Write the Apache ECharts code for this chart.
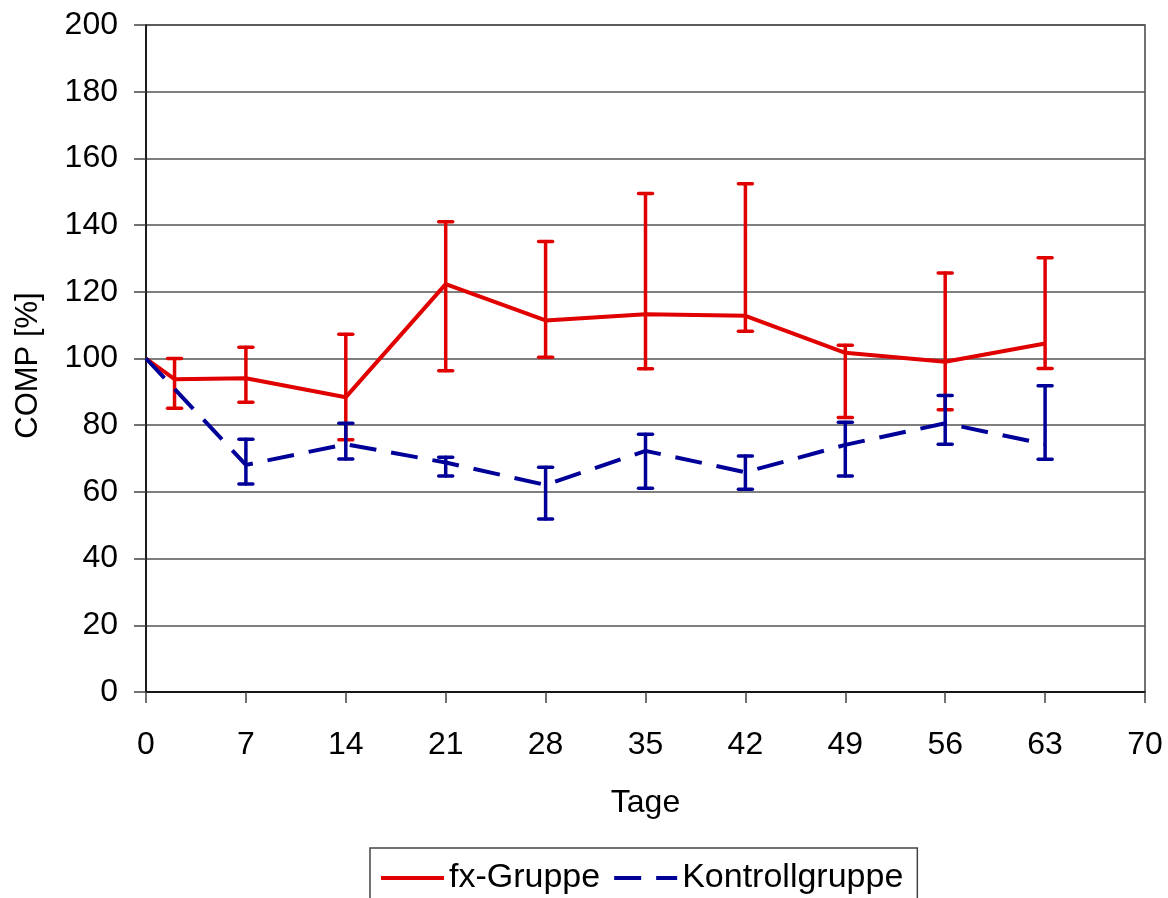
<!DOCTYPE html>
<html>
<head>
<meta charset="utf-8">
<script src="https://cdn.jsdelivr.net/npm/echarts@6/dist/echarts.min.js"></script>
<style>
html,body{margin:0;padding:0;background:#fff;}
#chart{width:1168px;height:898px;}
</style>
</head>
<body>
<div id="chart"></div>
<script>
// Data
var fxDays   = [0, 2, 7, 14, 21, 28, 35, 42, 49, 56, 63];
var fxMean   = [100, 93.8, 94.1, 88.4, 122.3, 111.4, 113.3, 112.8, 101.7, 99.0, 104.5];
var fxUpper  = [null, 100.0, 103.4, 107.3, 141.0, 135.1, 149.5, 152.4, 104.0, 125.6, 130.2];
var fxLower  = [null, 85.1, 86.9, 75.6, 96.3, 100.4, 96.9, 108.2, 82.3, 84.6, 97.0];

var kDays    = [0, 7, 14, 21, 28, 35, 42, 49, 56, 63];
var kMean    = [100, 68.1, 74.3, 68.8, 62.1, 72.3, 65.9, 74.1, 80.6, 74.3];
var kUpper   = [null, 75.8, 80.6, 70.4, 67.4, 77.3, 70.8, 80.9, 88.9, 91.8];
var kLower   = [null, 62.4, 69.9, 64.8, 51.9, 61.1, 60.8, 64.8, 74.3, 69.8];

var xTicks = [0, 7, 14, 21, 28, 35, 42, 49, 56, 63, 70];
var yTicks = [0, 20, 40, 60, 80, 100, 120, 140, 160, 180, 200];

var RED = '#e00000';
var BLUE = '#000099';
var FONT = '"Liberation Sans", Arial, sans-serif';

function pairs(xs, ys) {
  return xs.map(function (x, i) { return [x, ys[i]]; });
}
function errData(xs, lo, hi) {
  var out = [];
  xs.forEach(function (x, i) {
    if (lo[i] != null && hi[i] != null) out.push([x, lo[i], hi[i]]);
  });
  return out;
}
function errRender(color) {
  return function (params, api) {
    var x = api.value(0);
    var pLo = api.coord([x, api.value(1)]);
    var pHi = api.coord([x, api.value(2)]);
    var hw = 7;
    var style = { stroke: color, lineWidth: 3.5, lineCap: 'round' };
    return {
      type: 'group',
      children: [
        { type: 'line', shape: { x1: pLo[0], y1: pLo[1], x2: pHi[0], y2: pHi[1] }, style: style },
        { type: 'line', shape: { x1: pLo[0] - hw, y1: pLo[1], x2: pLo[0] + hw, y2: pLo[1] }, style: style },
        { type: 'line', shape: { x1: pHi[0] - hw, y1: pHi[1], x2: pHi[0] + hw, y2: pHi[1] }, style: style }
      ]
    };
  };
}

var chart = echarts.init(document.getElementById('chart'), null, { renderer: 'canvas' });
chart.setOption({
  animation: false,
  backgroundColor: '#fff',
  textStyle: { fontFamily: FONT },
  grid: {
    left: 146, right: 23, top: 25, bottom: 206,
    show: true, borderColor: '#444', borderWidth: 1.5
  },
  legend: {
    data: ['fx-Gruppe', 'Kontrollgruppe'],
    left: 370, top: 848,
    orient: 'horizontal',
    itemWidth: 63, itemHeight: 14, itemGap: 12,
    padding: [13, 14, 30, 9],
    borderColor: '#444', borderWidth: 1.5,
    selectedMode: false,
    itemStyle: { color: 'rgba(0,0,0,0)', borderWidth: 0, opacity: 0 },
    lineStyle: { width: 4 },
    textStyle: { fontSize: 34, color: '#000', fontFamily: FONT }
  },
  xAxis: {
    type: 'value',
    min: xTicks[0], max: xTicks[xTicks.length - 1], interval: 7,
    name: 'Tage', nameLocation: 'middle', nameGap: 95,
    nameTextStyle: { fontSize: 32, color: '#000', fontFamily: FONT },
    axisLine: { show: true, lineStyle: { color: '#000', width: 1.5 } },
    axisTick: { show: true, inside: false, length: 11, lineStyle: { color: '#444', width: 1.5 } },
    axisLabel: { fontSize: 32, color: '#000', margin: 37, fontFamily: FONT },
    splitLine: { show: false }
  },
  yAxis: {
    type: 'value',
    min: yTicks[0], max: yTicks[yTicks.length - 1], interval: 20,
    name: 'COMP [%]', nameLocation: 'middle', nameGap: 102, nameRotate: 90,
    nameTextStyle: { fontSize: 31, color: '#000', fontFamily: FONT, padding: [0, 14, 0, 0] },
    axisLine: { show: true, lineStyle: { color: '#000', width: 1.5 } },
    axisTick: { show: true, inside: false, length: 12, lineStyle: { color: '#444', width: 1.5 } },
    axisLabel: { fontSize: 32, color: '#000', margin: 28, fontFamily: FONT },
    splitLine: { show: true, lineStyle: { color: '#555', width: 1.5 } }
  },
  series: [
    {
      name: 'fx-Gruppe',
      type: 'line',
      data: pairs(fxDays, fxMean),
      symbol: 'none',
      lineStyle: { color: RED, width: 4 },
      itemStyle: { color: RED },
      z: 3
    },
    {
      name: 'fxErr',
      type: 'custom',
      data: errData(fxDays, fxLower, fxUpper),
      renderItem: errRender(RED),
      encode: { x: 0, y: [1, 2] },
      z: 3
    },
    {
      name: 'Kontrollgruppe',
      type: 'line',
      data: pairs(kDays, kMean),
      symbol: 'none',
      lineStyle: { color: BLUE, width: 4, type: [27, 15], cap: 'butt' },
      itemStyle: { color: BLUE },
      z: 4
    },
    {
      name: 'kErr',
      type: 'custom',
      data: errData(kDays, kLower, kUpper),
      renderItem: errRender(BLUE),
      encode: { x: 0, y: [1, 2] },
      z: 4
    }
  ]
});
</script>
</body>
</html>
